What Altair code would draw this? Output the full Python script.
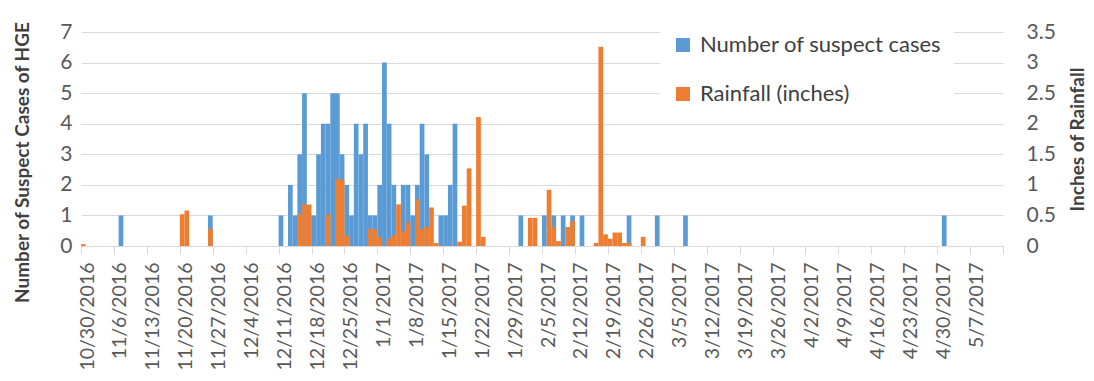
import json
import altair as alt
import pandas as pd

# ---- data ----
case_dates = ["2016-11-07", "2016-11-26", "2016-12-11", "2016-12-13", "2016-12-14", "2016-12-15",
              "2016-12-16", "2016-12-17", "2016-12-18", "2016-12-19", "2016-12-20", "2016-12-21",
              "2016-12-22", "2016-12-23", "2016-12-24", "2016-12-25", "2016-12-26", "2016-12-27",
              "2016-12-28", "2016-12-29", "2016-12-30", "2016-12-31", "2017-01-01", "2017-01-02",
              "2017-01-03", "2017-01-04", "2017-01-06", "2017-01-07", "2017-01-08", "2017-01-09",
              "2017-01-10", "2017-01-11", "2017-01-14", "2017-01-15", "2017-01-16", "2017-01-17",
              "2017-01-31", "2017-02-05", "2017-02-07", "2017-02-09", "2017-02-11", "2017-02-13",
              "2017-02-23", "2017-03-01", "2017-03-07", "2017-05-01"]
case_counts = [1, 1, 1, 2, 1, 3,
               5, 1, 1, 3, 4, 4,
               5, 5, 3, 2, 1, 4,
               3, 4, 1, 1, 2, 6,
               4, 2, 2, 2, 1, 2,
               4, 3, 1, 1, 2, 4,
               1, 1, 1, 1, 1, 1,
               1, 1, 1, 1]

rain_dates = ["2016-10-30", "2016-11-20", "2016-11-21", "2016-11-26", "2016-12-15", "2016-12-16",
              "2016-12-17", "2016-12-21", "2016-12-23", "2016-12-24", "2016-12-25", "2016-12-30",
              "2016-12-31", "2017-01-01", "2017-01-03", "2017-01-04", "2017-01-05", "2017-01-06",
              "2017-01-07", "2017-01-09", "2017-01-10", "2017-01-11", "2017-01-12", "2017-01-13",
              "2017-01-18", "2017-01-19", "2017-01-20", "2017-01-22", "2017-01-23", "2017-02-02",
              "2017-02-03", "2017-02-06", "2017-02-07", "2017-02-08", "2017-02-10", "2017-02-11",
              "2017-02-16", "2017-02-17", "2017-02-18", "2017-02-19", "2017-02-20", "2017-02-21",
              "2017-02-22", "2017-02-23", "2017-02-26"]
rain_inches = [0.03, 0.52, 0.58, 0.28, 0.52, 0.68,
               0.68, 0.52, 1.10, 1.08, 0.17, 0.28,
               0.27, 0.14, 0.12, 0.18, 0.68, 0.24,
               0.39, 0.76, 0.28, 0.31, 0.63, 0.05,
               0.07, 0.66, 1.27, 2.11, 0.15, 0.46,
               0.46, 0.92, 0.31, 0.08, 0.31, 0.41,
               0.05, 3.26, 0.19, 0.12, 0.22, 0.22,
               0.05, 0.05, 0.15]

tick_labels = ["10/30/2016", "11/6/2016", "11/13/2016", "11/20/2016", "11/27/2016", "12/4/2016",
               "12/11/2016", "12/18/2016", "12/25/2016", "1/1/2017", "1/8/2017", "1/15/2017",
               "1/22/2017", "1/29/2017", "2/5/2017", "2/12/2017", "2/19/2017", "2/26/2017",
               "3/5/2017", "3/12/2017", "3/19/2017", "3/26/2017", "4/2/2017", "4/9/2017",
               "4/16/2017", "4/23/2017", "4/30/2017", "5/7/2017"]

series_names = ["Number of suspect cases", "Rainfall (inches)"]
series_colors = ["#5B9BD5", "#ED7D31"]

start = pd.Timestamp("2016-10-30")
n_days = 196

cases = pd.DataFrame({"date": pd.to_datetime(case_dates), "count": case_counts})
cases["day"] = (cases["date"] - start).dt.days
cases["day_end"] = cases["day"] + 1
cases["series"] = series_names[0]
cases = cases.drop(columns="date")

rain = pd.DataFrame({"date": pd.to_datetime(rain_dates), "rain": rain_inches})
rain["day"] = (rain["date"] - start).dt.days
rain["day_end"] = rain["day"] + 1
rain["series"] = series_names[1]
rain = rain.drop(columns="date")

FONT = "Lato"
GRID = "#D9D9D9"
LABEL = "#595959"
TITLE = "#404040"

label_expr = json.dumps(tick_labels) + "[round(datum.value / 7)] || ''"

x_enc = alt.X(
    "day:Q",
    scale=alt.Scale(domain=[0, n_days], nice=False, zero=False),
    axis=alt.Axis(
        values=list(range(0, n_days + 1, 7)),
        labelExpr=label_expr,
        labelAngle=-90,
        labelAlign="right",
        labelBaseline="middle",
        labelOffset=6,
        labelPadding=8,
        labelOverlap=False,
        labelFontSize=19.5,
        labelColor=LABEL,
        labelFont=FONT,
        tickColor=GRID,
        tickSize=8,
        domainColor=GRID,
        grid=False,
        title=None,
    ),
)

color_enc = alt.Color(
    "series:N",
    scale=alt.Scale(domain=series_names, range=series_colors),
    legend=alt.Legend(
        title=None,
        orient="none",
        legendX=579,
        legendY=-10,
        direction="vertical",
        symbolType="square",
        symbolSize=196,
        symbolStrokeWidth=0,
        labelFont=FONT,
        labelFontSize=22,
        labelColor=TITLE,
        labelLimit=400,
        labelOffset=6,
        rowPadding=27,
        padding=12,
        fillColor="white",
    ),
)

cases_bars = alt.Chart(cases).mark_bar(strokeWidth=0).encode(
    x=x_enc,
    x2="day_end:Q",
    y=alt.Y(
        "count:Q",
        scale=alt.Scale(domain=[0, 7], nice=False),
        axis=alt.Axis(
            orient="left",
            values=list(range(0, 8)),
            format="d",
            grid=True,
            gridColor=GRID,
            domain=False,
            ticks=False,
            labelFontSize=21,
            labelColor=LABEL,
            labelFont=FONT,
            labelPadding=9,
            title="Number of Suspect Cases of HGE",
            titleFont=FONT,
            titleFontSize=19,
            titleFontWeight="bold",
            titleColor=TITLE,
            titleAngle=-90,
            titleAlign="center",
            titleBaseline="middle",
            titleX=-59,
            titleY=130,
        ),
    ),
    y2=alt.datum(0),
    color=color_enc,
)

rain_bars = alt.Chart(rain).mark_bar(strokeWidth=0).encode(
    x=x_enc,
    x2="day_end:Q",
    y=alt.Y(
        "rain:Q",
        scale=alt.Scale(domain=[0, 3.5], nice=False),
        axis=alt.Axis(
            orient="right",
            values=[0, 0.5, 1, 1.5, 2, 2.5, 3, 3.5],
            format="~g",
            grid=False,
            domain=False,
            ticks=False,
            labelFontSize=21,
            labelColor=LABEL,
            labelFont=FONT,
            labelPadding=23,
            title="Inches of Rainfall",
            titleFont=FONT,
            titleFontSize=19,
            titleFontWeight="bold",
            titleColor=TITLE,
            titleAngle=-90,
            titleAlign="center",
            titleBaseline="middle",
            titleX=74,
            titleY=107,
        ),
    ),
    y2=alt.datum(0),
    color=color_enc,
)

chart = (
    alt.layer(cases_bars, rain_bars)
    .resolve_scale(y="independent")
    .properties(
        width=922,
        height=214,
        autosize=alt.AutoSizeParams(type="none"),
        padding={"left": 73, "top": 24, "right": 83, "bottom": 127},
        background="white",
    )
    .configure_view(strokeWidth=0)
)

chart.save("out.html", embed_options={"renderer": "svg", "actions": False})
